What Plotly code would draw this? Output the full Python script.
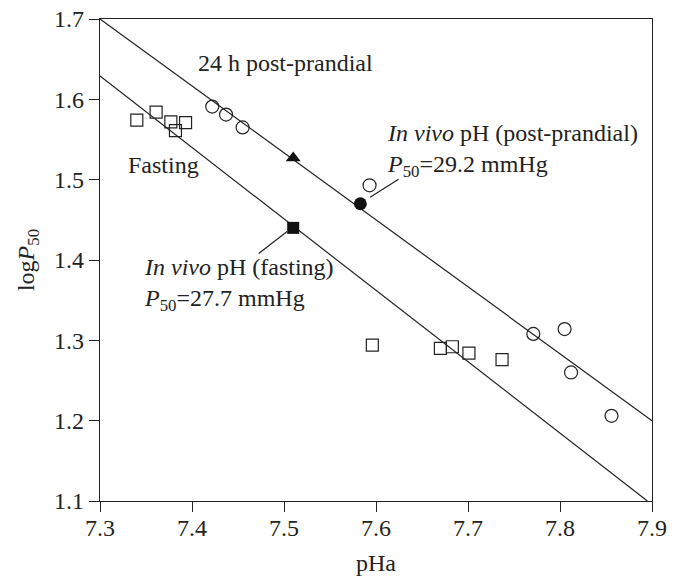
import plotly.graph_objects as go

# ---- data ----
fast_ph = [7.340, 7.361, 7.377, 7.382, 7.393, 7.596, 7.670, 7.683, 7.701, 7.737]
fast_logp = [1.574, 1.584, 1.572, 1.561, 1.571, 1.294, 1.290, 1.292, 1.284, 1.276]

post_ph = [7.422, 7.437, 7.455, 7.593, 7.771, 7.805, 7.812, 7.856]
post_logp = [1.591, 1.581, 1.565, 1.493, 1.308, 1.314, 1.260, 1.206]

tri_ph = [7.510]
tri_logp = [1.527]

invivo_post_ph = [7.583]
invivo_post_logp = [1.470]
invivo_fast_ph = [7.510]
invivo_fast_logp = [1.440]

post_line_x = [7.30, 7.90]
post_line_y = [1.700, 1.200]
fast_line_x = [7.30, 7.895]
fast_line_y = [1.629, 1.100]

# leader lines (start, end)
lead_post = [(7.592, 1.477), (7.6245, 1.5004)]
lead_fast = [(7.505, 1.437), (7.4725, 1.408)]

x_ticks = [7.3, 7.4, 7.5, 7.6, 7.7, 7.8, 7.9]
y_ticks = [1.1, 1.2, 1.3, 1.4, 1.5, 1.6, 1.7]

FONT = "Liberation Serif, Times New Roman, serif"
INK = "#222222"
FS = 24

fig = go.Figure()
fig.add_trace(go.Scatter(x=post_line_x, y=post_line_y, mode="lines",
                         line=dict(color=INK, width=1.2), showlegend=False))
fig.add_trace(go.Scatter(x=fast_line_x, y=fast_line_y, mode="lines",
                         line=dict(color=INK, width=1.2), showlegend=False))
fig.add_trace(go.Scatter(x=fast_ph, y=fast_logp, mode="markers",
                         marker=dict(symbol="square-open", size=12, color=INK,
                                     line=dict(width=1.2, color=INK)),
                         showlegend=False))
fig.add_trace(go.Scatter(x=post_ph, y=post_logp, mode="markers",
                         marker=dict(symbol="circle-open", size=13, color=INK,
                                     line=dict(width=1.2, color=INK)),
                         showlegend=False))
fig.add_trace(go.Scatter(x=tri_ph, y=tri_logp, mode="markers",
                         marker=dict(symbol="triangle-up", size=13, color="#111"),
                         showlegend=False))
fig.add_trace(go.Scatter(x=invivo_post_ph, y=invivo_post_logp, mode="markers",
                         marker=dict(symbol="circle", size=13, color="#111"),
                         showlegend=False))
fig.add_trace(go.Scatter(x=invivo_fast_ph, y=invivo_fast_logp, mode="markers",
                         marker=dict(symbol="square", size=12, color="#111"),
                         showlegend=False))

for (p0, p1) in (lead_post, lead_fast):
    fig.add_annotation(x=p1[0], y=p1[1], ax=p0[0], ay=p0[1],
                       axref="x", ayref="y", xref="x", yref="y",
                       text="", showarrow=True, arrowhead=0,
                       arrowwidth=1.2, arrowcolor=INK, standoff=0, startstandoff=0)

def label(x, y, text):
    fig.add_annotation(x=x, y=y, xref="x", yref="y", text=text, showarrow=False,
                       xanchor="left", yanchor="middle", align="left",
                       font=dict(family=FONT, size=FS, color=INK))

label(7.4040, 1.6452, "24 h post-prandial")
label(7.3285, 1.5182, "Fasting")
label(7.6100, 1.5369, "<i>In vivo</i> pH (post-prandial)<br><i>P</i><sub>50</sub>=29.2 mmHg")
label(7.3460, 1.3700, "<i>In vivo</i> pH (fasting)<br><i>P</i><sub>50</sub>=27.7 mmHg")

axis_common = dict(showline=True, linecolor=INK, linewidth=1.3, mirror=True,
                   ticks="outside", ticklen=10, tickwidth=1.3, tickcolor=INK,
                   showgrid=False, zeroline=False, automargin=False,
                   tickfont=dict(family=FONT, size=FS, color=INK))

fig.update_xaxes(range=[7.3, 7.9], tickvals=x_ticks,
                 ticktext=[f"{v:.1f}" for v in x_ticks],
                 ticklabelstandoff=-5,
                 title=dict(text="pHa", font=dict(family=FONT, size=FS, color=INK),
                            standoff=14),
                 **axis_common)
fig.update_yaxes(range=[1.1, 1.7], tickvals=y_ticks,
                 ticktext=[f"{v:.1f}" for v in y_ticks],
                 title=dict(text="log<i>P</i><sub>50</sub>",
                            font=dict(family=FONT, size=FS, color=INK),
                            standoff=12),
                 **axis_common)

fig.update_layout(width=681, height=577,
                  margin=dict(l=100, r=29, t=19, b=76),
                  paper_bgcolor="white", plot_bgcolor="white",
                  font=dict(family=FONT, size=FS, color=INK))

fig.write_html("out.html")
